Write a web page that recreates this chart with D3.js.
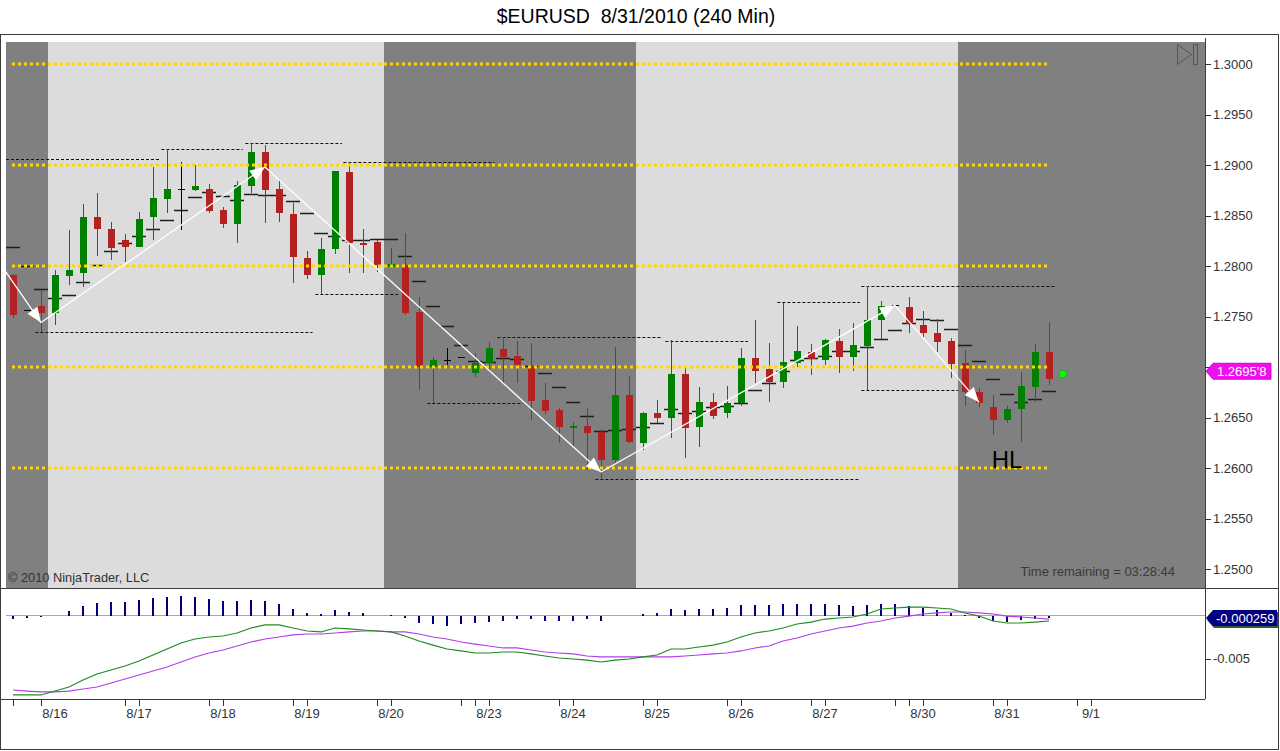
<!DOCTYPE html>
<html lang="en">
<head>
<meta charset="UTF-8" />
<title>$EURUSD 8/31/2010 (240 Min)</title>
<script src="https://d3js.org/d3.v7.min.js"></script>
<style>
  body { margin: 0; background: #fff; }
  svg { display: block; font-family: "Liberation Sans", Arial, sans-serif; }
</style>
</head>
<body>
<svg id="chart" width="1280" height="751"></svg>
<script>
// 240 min bars, 8/13 .. 8/31/2010
const open = [1.2791,1.2756,1.2760,1.2753,1.2790,1.2794,1.2849,1.2837,1.2826,1.2819,
  1.2848,1.2866,1.2876,1.2875,1.2876,1.2855,1.2841,1.2879,1.2913,1.2876,
  1.2851,1.2808,1.2791,1.2817,1.2893,1.2823,1.2824,1.2799,1.2801,1.2754,
  1.2700,1.2707,1.2710,1.2694,1.2704,1.2718,1.2711,1.2701,1.2667,1.2657,
  1.2640,1.2642,1.2636,1.2608,1.2672,1.2624,1.2654,1.2649,1.2693,1.2640,
  1.2665,1.2654,1.2664,1.2709,1.2698,1.2685,1.2704,1.2715,1.2707,1.2726,
  1.2710,1.2721,1.2746,1.2761,1.2759,1.2742,1.2734,1.2726,1.2704,1.2675,
  1.2660,1.2647,1.2658,1.2680,1.2715];
const high = [1.2792,1.2756,1.2776,1.2796,1.2836,1.2861,1.2872,1.2844,1.2832,1.2853,
  1.2898,1.2916,1.2903,1.2900,1.2881,1.2858,1.2884,1.2922,1.2920,1.2886,
  1.2862,1.2815,1.2828,1.2894,1.2903,1.2837,1.2826,1.2818,1.2833,1.2769,
  1.2710,1.2719,1.2710,1.2714,1.2725,1.2730,1.2726,1.2724,1.2684,1.2659,
  1.2646,1.2659,1.2639,1.2720,1.2691,1.2655,1.2667,1.2727,1.2699,1.2680,
  1.2674,1.2681,1.2719,1.2747,1.2724,1.2763,1.2741,1.2723,1.2728,1.2738,
  1.2744,1.2780,1.2765,1.2761,1.2769,1.2755,1.2748,1.2729,1.2717,1.2679,
  1.2672,1.2661,1.2695,1.2723,1.2745];
const low = [1.2749,1.2756,1.2735,1.2742,1.2781,1.2779,1.2810,1.2806,1.2804,1.2819,
  1.2826,1.2852,1.2836,1.2874,1.2852,1.2838,1.2823,1.2872,1.2843,1.2844,
  1.2783,1.2787,1.2772,1.2812,1.2793,1.2793,1.2794,1.2798,1.2751,1.2677,
  1.2664,1.2702,1.2710,1.2690,1.2695,1.2684,1.2684,1.2648,1.2653,1.2625,
  1.2621,1.2598,1.2590,1.2605,1.2625,1.2618,1.2645,1.2630,1.2610,1.2621,
  1.2649,1.2650,1.2661,1.2684,1.2665,1.2679,1.2700,1.2692,1.2702,1.2694,
  1.2696,1.2677,1.2728,1.2761,1.2734,1.2730,1.2715,1.2689,1.2661,1.2660,
  1.2633,1.2645,1.2626,1.2665,1.2682];
const close = [1.2751,1.2756,1.2753,1.2791,1.2796,1.2849,1.2837,1.2818,1.2819,1.2847,
  1.2867,1.2876,1.2876,1.2879,1.2854,1.2841,1.2880,1.2913,1.2875,1.2852,
  1.2808,1.2791,1.2817,1.2894,1.2823,1.2821,1.2801,1.2802,1.2753,1.2700,
  1.2707,1.2707,1.2710,1.2704,1.2719,1.2710,1.2702,1.2666,1.2656,1.2640,
  1.2642,1.2635,1.2608,1.2672,1.2625,1.2654,1.2649,1.2693,1.2640,1.2665,
  1.2651,1.2664,1.2709,1.2696,1.2685,1.2705,1.2716,1.2708,1.2727,1.2710,
  1.2722,1.2747,1.2760,1.2761,1.2742,1.2734,1.2725,1.2703,1.2675,1.2664,
  1.2647,1.2658,1.2681,1.2715,1.2688];

// hash-mark average plotted on every bar
const avgMarks = [1.2819,1.2800,1.2777,1.2768,1.2771,1.2784,1.2801,1.2815,1.2823,1.2830,
  1.2837,1.2846,1.2855,1.2868,1.2873,1.2869,1.2865,1.2871,1.2870,1.2870,
  1.2864,1.2852,1.2833,1.2830,1.2826,1.2826,1.2827,1.2827,1.2810,1.2785,
  1.2760,1.2741,1.2722,1.2706,1.2705,1.2709,1.2708,1.2701,1.2694,1.2680,
  1.2665,1.2651,1.2637,1.2638,1.2639,1.2641,1.2645,1.2658,1.2654,1.2656,
  1.2660,1.2661,1.2664,1.2677,1.2684,1.2696,1.2707,1.2709,1.2711,1.2716,
  1.2716,1.2720,1.2728,1.2737,1.2744,1.2748,1.2747,1.2738,1.2722,1.2706,
  1.2688,1.2673,1.2665,1.2668,1.2676];

// MACD panel
const macd = [-0.00926,-0.00926,-0.00926,-0.00880,-0.00833,-0.00751,-0.00681,-0.00634,-0.00588,-0.00529,
  -0.00459,-0.00389,-0.00319,-0.00272,-0.00249,-0.00237,-0.00202,-0.00144,-0.00108,-0.00108,
  -0.00144,-0.00179,-0.00190,-0.00144,-0.00155,-0.00167,-0.00179,-0.00190,-0.00237,-0.00296,
  -0.00343,-0.00389,-0.00412,-0.00436,-0.00436,-0.00424,-0.00424,-0.00447,-0.00471,-0.00494,
  -0.00506,-0.00518,-0.00541,-0.00518,-0.00506,-0.00482,-0.00459,-0.00389,-0.00389,-0.00366,
  -0.00343,-0.00307,-0.00249,-0.00202,-0.00179,-0.00144,-0.00097,-0.00074,-0.00039,-0.00027,
  -0.00015,0.00020,0.00078,0.00090,0.00101,0.00101,0.00090,0.00078,0.00032,-0.00004,
  -0.00062,-0.00085,-0.00085,-0.00074,-0.00062];
const macdAvg = [-0.00868,-0.00880,-0.00891,-0.00891,-0.00880,-0.00856,-0.00833,-0.00786,-0.00739,-0.00693,
  -0.00646,-0.00599,-0.00541,-0.00482,-0.00436,-0.00401,-0.00354,-0.00307,-0.00272,-0.00249,
  -0.00225,-0.00214,-0.00214,-0.00202,-0.00190,-0.00179,-0.00179,-0.00190,-0.00190,-0.00214,
  -0.00249,-0.00272,-0.00307,-0.00331,-0.00354,-0.00377,-0.00377,-0.00401,-0.00424,-0.00436,
  -0.00447,-0.00471,-0.00482,-0.00482,-0.00482,-0.00482,-0.00482,-0.00482,-0.00471,-0.00459,
  -0.00447,-0.00436,-0.00412,-0.00377,-0.00354,-0.00296,-0.00261,-0.00214,-0.00179,-0.00144,
  -0.00121,-0.00085,-0.00062,-0.00027,-0.00004,0.00020,0.00032,0.00043,0.00043,0.00032,
  0.00020,-0.00004,-0.00015,-0.00027,-0.00039];
const macdDiff = [-0.00039,-0.00027,-0.00015,0,0.00055,0.00113,0.00148,0.00160,0.00160,0.00183,
  0.00206,0.00218,0.00230,0.00218,0.00195,0.00172,0.00172,0.00183,0.00172,0.00137,
  0.00078,0.00032,0.00020,0.00067,0.00043,0.00032,0,0.00012,-0.00027,-0.00085,
  -0.00097,-0.00121,-0.00097,-0.00085,-0.00074,-0.00062,-0.00039,-0.00039,-0.00062,-0.00062,
  -0.00062,-0.00039,-0.00062,-0.00004,-0.00004,0.00020,0.00032,0.00078,0.00067,0.00078,
  0.00078,0.00090,0.00125,0.00125,0.00125,0.00137,0.00137,0.00137,0.00137,0.00125,
  0.00113,0.00125,0.00137,0.00137,0.00113,0.00090,0.00067,0.00032,0.00008,-0.00027,
  -0.00062,-0.00074,-0.00050,-0.00039,-0.000259];

// drawn objects
const levels = [1.3000, 1.2900, 1.2800, 1.2700, 1.2600];
const swingFrom  = [-0.5, 10.6, 16.6, 1.6, 23.6, 21.6, 29.6, 34.6, 41.6, 46.6, 54.6, 60.6, 60.6];
const swingTo    = [10.5, 16.4, 23.5, 21.4, 34.4, 27.5, 36.4, 46.4, 60.5, 52.5, 60.5, 74.4, 67.5];
const swingLevel = [1.2906, 1.2916, 1.2922, 1.2735, 1.2903, 1.2772, 1.2664, 1.2730, 1.2589, 1.2726, 1.2764, 1.2780, 1.2677];
const zigBar   = [-0.6, 2, 18, 42, 63, 69];
const zigPrice = [1.2796, 1.2744, 1.2898, 1.2596, 1.2761, 1.2665];
const bandEdges = [-1, 2.5, 26.5, 44.5, 67.5, 86];
const bandColors = ['#808080', '#dcdcdc', '#808080', '#dcdcdc', '#808080'];

// time axis
const tickBars = [0, 2, 8, 9, 14, 15, 20, 21, 26, 27, 32, 33, 34, 39, 40, 45, 46, 51, 52, 57, 58, 63, 64, 65, 70, 71, 76, 77];
const dayLabels = ['8/16', '8/17', '8/18', '8/19', '8/20', '8/23', '8/24', '8/25', '8/26', '8/27', '8/30', '8/31', '9/1'];
const dayLabelBars = [3, 9, 15, 21, 27, 34, 40, 46, 52, 58, 65, 71, 77];
const indTicks = [-0.005];

const lastPrice = 1.26958;
const lastBar = 75;
const lastQuote = 1.2693;

const svg = d3.select('#chart');
const plotL = 6, plotR = 1205;
const priceTop = 42, priceBottom = 588;
const indTop = 589, indBottom = 699;

const x = d3.scaleLinear().domain([0, 74]).range([13, 1049]);
const y = d3.scaleLinear().domain([1.25, 1.30]).range([569, 64]);
const yi = d3.scaleLinear().domain([-0.005, 0]).range([658.5, 615.7]);

const defs = svg.append('defs');
defs.append('clipPath').attr('id', 'clipPrice')
  .append('rect').attr('x', plotL).attr('y', priceTop).attr('width', plotR - plotL).attr('height', priceBottom - priceTop);
defs.append('clipPath').attr('id', 'clipInd')
  .append('rect').attr('x', plotL).attr('y', indTop).attr('width', plotR - plotL).attr('height', indBottom - indTop);

// title
svg.append('text')
  .attr('x', 636).attr('y', 23)
  .attr('text-anchor', 'middle')
  .attr('font-size', '19.5px')
  .attr('fill', '#000')
  .style('white-space', 'pre')
  .text('$EURUSD  8/31/2010 (240 Min)');

// ---------- price panel ----------
const gp = svg.append('g').attr('clip-path', 'url(#clipPrice)');

gp.selectAll('rect.band')
  .data(d3.pairs(bandEdges))
  .join('rect')
  .attr('class', 'band')
  .attr('x', d => x(d[0]))
  .attr('y', priceTop)
  .attr('width', d => x(d[1]) - x(d[0]))
  .attr('height', priceBottom - priceTop)
  .attr('fill', (d, i) => bandColors[i]);

gp.selectAll('line.avg')
  .data(avgMarks)
  .join('line')
  .attr('class', 'avg')
  .attr('x1', (d, i) => x(i) - 7)
  .attr('x2', (d, i) => x(i) + 7)
  .attr('y1', d => Math.round(y(d)) + 0.5)
  .attr('y2', d => Math.round(y(d)) + 0.5)
  .attr('stroke', '#1e1e1e')
  .attr('stroke-width', 1.5);

gp.selectAll('line.swing')
  .data(swingLevel)
  .join('line')
  .attr('class', 'swing')
  .attr('x1', (d, i) => x(swingFrom[i]))
  .attr('x2', (d, i) => x(swingTo[i]))
  .attr('y1', d => Math.round(y(d)) + 0.5)
  .attr('y2', d => Math.round(y(d)) + 0.5)
  .attr('stroke', '#111')
  .attr('stroke-width', 1)
  .attr('stroke-dasharray', '3,2');

const bars = open.map((o, i) => ({ i, o, h: high[i], l: low[i], c: close[i] }));
const candleColor = d => d.c > d.o ? '#008000' : d.c < d.o ? '#b22222' : '#000000';

const candle = gp.selectAll('g.candle')
  .data(bars)
  .join('g')
  .attr('class', 'candle')
  .attr('shape-rendering', 'crispEdges');

candle.append('line')
  .attr('x1', d => x(d.i) + 0.5)
  .attr('x2', d => x(d.i) + 0.5)
  .attr('y1', d => y(d.h))
  .attr('y2', d => y(d.l))
  .attr('stroke', candleColor);

candle.append('rect')
  .attr('x', d => x(d.i) - 3)
  .attr('y', d => Math.round(y(Math.max(d.o, d.c))))
  .attr('width', 7)
  .attr('height', d => Math.max(1, Math.round(Math.abs(y(d.o) - y(d.c)))))
  .attr('fill', candleColor);

gp.selectAll('line.level')
  .data(levels)
  .join('line')
  .attr('class', 'level')
  .attr('x1', x(-0.07))
  .attr('x2', x(73.93))
  .attr('y1', d => y(d))
  .attr('y2', d => y(d))
  .attr('stroke', '#ffd700')
  .attr('stroke-width', 3)
  .attr('stroke-dasharray', '3,3');

// zigzag with arrow heads
const zig = zigBar.map((b, k) => [x(b), y(zigPrice[k])]);
const segs = d3.pairs(zig);
gp.selectAll('line.zig')
  .data(segs)
  .join('line')
  .attr('class', 'zig')
  .attr('x1', d => d[0][0]).attr('y1', d => d[0][1])
  .attr('x2', d => d[1][0]).attr('y2', d => d[1][1])
  .attr('stroke', '#fff')
  .attr('stroke-width', 1.3);
gp.selectAll('path.head')
  .data(segs)
  .join('path')
  .attr('class', 'head')
  .attr('fill', '#fff')
  .attr('d', d => {
    const [x0, y0] = d[0], [x1, y1] = d[1];
    const a = Math.atan2(y1 - y0, x1 - x0);
    const len = 15, hw = 6;
    const bx = x1 - len * Math.cos(a), by = y1 - len * Math.sin(a);
    return `M${x1},${y1}L${bx + hw * Math.sin(a)},${by - hw * Math.cos(a)}L${bx - hw * Math.sin(a)},${by + hw * Math.cos(a)}Z`;
  });

// current quote square
gp.append('rect')
  .attr('x', x(lastBar) - 3.5).attr('y', y(lastQuote) - 3.5)
  .attr('width', 7).attr('height', 7)
  .attr('fill', '#00ff00').attr('stroke', '#4c8c4c').attr('stroke-width', 0.8);

gp.append('text')
  .attr('x', x(71)).attr('y', y(1.2600))
  .attr('text-anchor', 'middle')
  .attr('font-size', '24px')
  .attr('fill', '#000')
  .text('HL');

gp.append('text')
  .attr('x', 8).attr('y', 582)
  .attr('font-size', '12.8px')
  .attr('fill', '#333')
  .text('\u00a9 2010 NinjaTrader, LLC');

gp.append('text')
  .attr('x', 1175).attr('y', 576)
  .attr('text-anchor', 'end')
  .attr('font-size', '13px')
  .attr('fill', '#3a3a3a')
  .text('Time remaining = 03:28:44');

// go-to-end button
gp.append('path')
  .attr('d', 'M1177.5,44.5L1191.5,54.5L1177.5,64.5Z M1193.5,44.5H1197.5V64.5H1193.5Z')
  .attr('fill', 'none')
  .attr('stroke', '#555')
  .attr('stroke-width', 1);

// price axis (the label hidden under the last-price marker is left out)
const lp = d3.format('.5f')(lastPrice);
const ly = y(lastPrice);
const priceTicks = y.ticks(10);
const py = svg.append('g');
py.selectAll('line.ptick')
  .data(priceTicks)
  .join('line')
  .attr('class', 'ptick')
  .attr('x1', plotR).attr('x2', plotR + 6)
  .attr('y1', d => Math.round(y(d)) + 0.5)
  .attr('y2', d => Math.round(y(d)) + 0.5)
  .attr('stroke', '#333');
py.selectAll('text.plabel')
  .data(priceTicks.filter(d => Math.abs(y(d) - ly) > 14))
  .join('text')
  .attr('class', 'plabel')
  .attr('x', plotR + 8)
  .attr('y', d => y(d))
  .attr('dy', '0.36em')
  .attr('font-size', '13px')
  .attr('fill', '#333')
  .text(d => d3.format('.4f')(d));

svg.append('path')
  .attr('d', `M1206,${ly}L1213,${ly - 8}H1271V${ly + 8}H1213Z`)
  .attr('fill', '#ee11ee').attr('stroke', '#b000b0').attr('stroke-width', 0.8);
svg.append('text')
  .attr('x', 1217).attr('y', ly).attr('dy', '0.36em')
  .attr('font-size', '13px').attr('fill', '#fff')
  .text(lp.slice(0, 6) + "'" + lp.slice(6));

// ---------- indicator panel ----------
const gi = svg.append('g').attr('clip-path', 'url(#clipInd)');
gi.append('line')
  .attr('x1', plotL).attr('x2', plotR)
  .attr('y1', Math.round(yi(0)) - 0.5).attr('y2', Math.round(yi(0)) - 0.5)
  .attr('stroke', '#a8a8a8');

gi.selectAll('rect.hist')
  .data(macdDiff)
  .join('rect')
  .attr('class', 'hist')
  .attr('shape-rendering', 'crispEdges')
  .attr('x', (d, i) => x(i) - 1)
  .attr('width', 2)
  .attr('y', d => Math.min(yi(d), yi(0)))
  .attr('height', d => Math.abs(yi(d) - yi(0)))
  .attr('fill', '#00007f');

const ln = d3.line().x((d, i) => x(i)).y(d => yi(d));
gi.append('path').attr('d', ln(macdAvg)).attr('fill', 'none').attr('stroke', '#b23ee8').attr('stroke-width', 1.2);
gi.append('path').attr('d', ln(macd)).attr('fill', 'none').attr('stroke', '#1f8a1f').attr('stroke-width', 1.2);

svg.selectAll('line.itick')
  .data(indTicks)
  .join('line')
  .attr('class', 'itick')
  .attr('x1', plotR).attr('x2', plotR + 6)
  .attr('y1', d => Math.round(yi(d)) + 0.5).attr('y2', d => Math.round(yi(d)) + 0.5)
  .attr('stroke', '#333');
svg.selectAll('text.ilabel')
  .data(indTicks)
  .join('text')
  .attr('class', 'ilabel')
  .attr('x', plotR + 8).attr('y', d => yi(d)).attr('dy', '0.36em')
  .attr('font-size', '13px').attr('fill', '#333')
  .text(d => d3.format('.3f')(d).replace('\u2212', '-'));

const lastDiff = macdDiff[macdDiff.length - 1];
const dy0 = yi(lastDiff);
svg.append('path')
  .attr('d', `M1207,${dy0 + 2}L1214,${dy0 - 6}H1278V${dy0 + 10}H1214Z`)
  .attr('fill', '#2e5b38');
svg.append('path')
  .attr('d', `M1206,${dy0}L1213,${dy0 - 8}H1277V${dy0 + 8}H1213Z`)
  .attr('fill', '#000080');
svg.append('text')
  .attr('x', 1216).attr('y', dy0).attr('dy', '0.36em')
  .attr('font-size', '13px').attr('fill', '#fff')
  .text(d3.format('.6f')(lastDiff).replace('\u2212', '-'));

// ---------- frame & separators ----------
const frame = svg.append('g').attr('shape-rendering', 'crispEdges').attr('stroke', '#3c3c3c').attr('fill', 'none');
frame.append('rect').attr('x', 0.5).attr('y', 34.5).attr('width', 1278).attr('height', 715);
frame.append('line').attr('x1', plotR + 0.5).attr('x2', plotR + 0.5).attr('y1', 38).attr('y2', indBottom);
frame.append('line').attr('x1', 0).attr('x2', 1279).attr('y1', priceBottom + 0.5).attr('y2', priceBottom + 0.5);
frame.append('line').attr('x1', 0).attr('x2', plotR).attr('y1', indBottom + 0.5).attr('y2', indBottom + 0.5);

// time axis
svg.selectAll('line.xtick')
  .data(tickBars)
  .join('line')
  .attr('class', 'xtick')
  .attr('shape-rendering', 'crispEdges')
  .attr('x1', d => x(d) + 0.5).attr('x2', d => x(d) + 0.5)
  .attr('y1', indBottom).attr('y2', indBottom + 7)
  .attr('stroke', '#333');
svg.selectAll('text.xlabel')
  .data(dayLabels)
  .join('text')
  .attr('class', 'xlabel')
  .attr('x', (d, i) => x(dayLabelBars[i]))
  .attr('y', 718)
  .attr('text-anchor', 'middle')
  .attr('font-size', '13px')
  .attr('fill', '#333')
  .text(d => d);
</script>
</body>
</html>
